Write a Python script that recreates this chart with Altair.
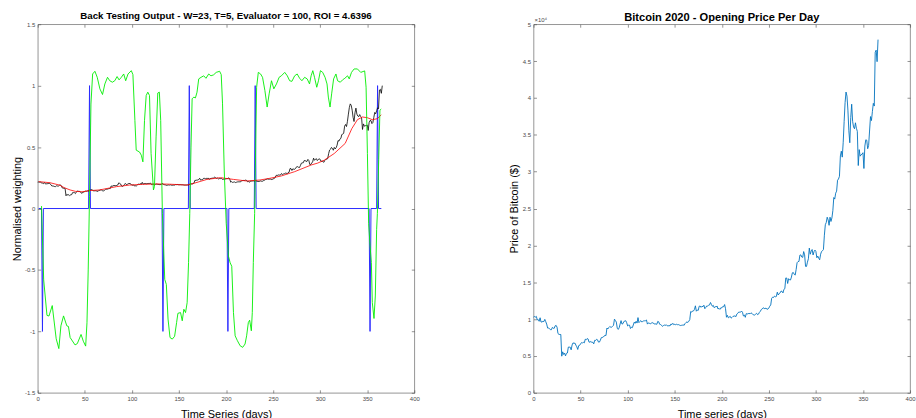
import altair as alt
import pandas as pd

# ---- Bitcoin opening price per day (USD), one list per month ----
feb_2020 = [10270, 10350, 10270, 10370, 9900, 9930, 9700, 10180, 9600, 9610,
            9690, 9660, 9960, 9650, 9320, 8780, 8780, 8710, 8560]
mar_2020 = [8560, 8870, 8760, 8750, 9080, 9150, 8900, 8040, 7930, 7910,
            7910, 4970, 5560, 5200, 5390, 5010, 5360, 5400, 6200, 6200,
            6190, 5830, 6490, 6780, 6700, 6750, 6470, 6240, 5880, 6400, 6440]
apr_2020 = [6640, 6810, 6740, 6870, 6780, 7270, 7200, 7360, 7300, 6870,
            6890, 6960, 6840, 6860, 6640, 7120, 7100, 7260, 7190, 6880,
            6880, 7120, 7480, 7510, 7550, 7700, 7800, 7770, 8790, 8660]
may_2020 = [8860, 8990, 8910, 8890, 9030, 9160, 9990, 9810, 9590, 8750,
            8600, 8820, 9320, 9790, 9320, 9380, 9670, 9730, 9780, 9510,
            9070, 9170, 9180, 8720, 8900, 8840, 9200, 9580, 9430, 9700, 9460]
jun_2020 = [10200, 9520, 9670, 9790, 9620, 9670, 9760, 9770, 9780, 9880,
            9320, 9480, 9470, 9340, 9430, 9530, 9460, 9390, 9310, 9360,
            9290, 9690, 9630, 9300, 9260, 9170, 9010, 9120, 9190, 9140]
jul_2020 = [9240, 9090, 9070, 9130, 9070, 9340, 9250, 9430, 9240, 9290,
            9240, 9300, 9240, 9250, 9190, 9130, 9150, 9170, 9210, 9160,
            9390, 9540, 9610, 9550, 9710, 9930, 11030, 10940, 11100, 11110, 11320]
aug_2020 = [11800, 11070, 11230, 11190, 11740, 11770, 11600, 11750, 11680, 11880,
            11410, 11580, 11780, 11770, 11870, 11910, 12250, 11990, 11740, 11860,
            11540, 11680, 11660, 11770, 11370, 11460, 11320, 11540, 11510, 11700, 11680]
sep_2020 = [11970, 11410, 10250, 10510, 10170, 10280, 10370, 10130, 10240, 10370,
            10400, 10440, 10330, 10680, 10790, 10950, 10940, 10940, 11090, 10920,
            10420, 10540, 10240, 10740, 10690, 10730, 10780, 10710, 10840, 10780]
oct_2020 = [10620, 10570, 10550, 10670, 10790, 10600, 10670, 10920, 11060, 11300,
            11380, 11540, 11430, 11430, 11500, 11320, 11370, 11500, 11750, 11920,
            12820, 12970, 12930, 13120, 13030, 13070, 13650, 13270, 13460, 13560, 13800]
nov_2020 = [13760, 13550, 14030, 14130, 15580, 15570, 14830, 15480, 15330, 15300,
            15700, 16280, 16320, 16070, 15970, 16720, 17650, 17800, 17820, 18680,
            18710, 18420, 18370, 19160, 18720, 17150, 17140, 17720, 18180, 19630]
dec_2020 = [18800, 19200, 19440, 18700, 19150, 19360, 19170, 18320, 18550, 18250,
            18040, 18800, 19170, 19270, 19440, 21380, 22800, 23110, 23820, 23460,
            22720, 23820, 23240, 23730, 24710, 26490, 26280, 27080, 27360, 28840, 29000]
jan_2021 = [29370, 32130, 32780, 31970, 33990, 36820, 39370, 40800, 40250, 38350,
            35540, 33920, 37330, 39150, 36830, 36070, 35820, 36630, 35890, 35470,
            30830, 32990, 32100, 32290, 32370, 32570, 30430, 33470, 34320, 34270, 33110]
feb_2021 = [33540, 35510, 37470, 36930, 38140, 39270, 38900, 46200, 46480, 44920, 47910]

# ---- back-testing signals ----
# trade signal: -1 sell, +1 buy, 0 hold
signal_day = [1, 4, 5, 6, 54, 55, 56, 132, 133, 134, 160, 161, 162, 201, 202, 203,
              230, 231, 232, 352, 353, 354, 360, 361, 362, 365]
signal_val = [0, 0, -1, 0, 0, 1, 0, 0, -1, 0, 0, 1, 0, 0, -1, 0,
              0, 1, 0, 0, -1, 0, 0, 1, 0, 0]

# evaluator output
eval_day = [4, 6.3, 9.8, 11.9, 15.4, 19.6, 22.4, 24.6, 27.4, 30.9, 32.6, 34.4, 39.6,
            42, 46, 48.4, 50.9, 52.3, 53.6, 55, 56.5, 58.3, 60.7, 63.2, 66, 68.8,
            71.3, 74.1, 76.5, 79.3, 81.8, 84.3, 86.4, 88.8, 91.3, 93.4, 95.9, 99.4,
            101.1, 103.2, 104.6, 108.1, 110, 111.7, 113.4, 115.2, 116.9, 118.7, 120.4,
            122.9, 124, 125.7, 127.5, 129.2, 130.6, 132.4, 134.9, 136.6, 138.4, 140.5,
            142.9, 145.4, 147.5, 148.9, 151.7, 153.5, 155.2, 157, 158.7, 160.2, 161.5,
            162.8, 164, 165.8, 167.5, 169.2, 171, 173.5, 176.3, 178.7, 181.6, 184,
            186.8, 189.6, 193.2, 194.9, 196.3, 198.1, 200.2, 202.6, 204.4, 206.1,
            207.9, 209.7, 212.1, 215, 217.7, 220.2, 221.9, 223.7, 225.1, 226.9, 227.9,
            229, 230.4, 231.5, 232.5, 234.3, 236.7, 238.8, 241.3, 243.7, 245.8, 248.3,
            250.8, 253.6, 256.4, 258.8, 262.4, 265.1, 267.6, 270, 272.9, 275.6, 278.2,
            280.6, 283.5, 286.2, 288.7, 290.4, 292.2, 294, 296.4, 298.2, 300.3, 302.7,
            305.2, 307.3, 308.7, 310.5, 312.2, 314.3, 316.8, 318.5, 321.4, 323.8,
            326.2, 329.1, 330.9, 333.3, 336.1, 339.6, 343.1, 347.3, 348.8, 350.2,
            351.5, 353, 354.4, 355.4, 357.2, 358.6, 360, 360.8, 362.2, 363.5, 364.9]
eval_val = [0.02, -0.58, -0.87, -0.875, -0.79, -1.06, -1.14, -0.955, -0.874, -0.955,
            -0.96, -1.05, -1.11, -1.1, -1.025, -1.08, -1.12, -0.93, -0.5, 0.1, 0.85,
            1.095, 1.117, 1.068, 0.974, 0.928, 1.014, 1.068, 1.04, 1.028, 1.04, 1.074,
            1.047, 1.068, 1.095, 1.04, 1.095, 1.122, 1.09, 0.717, 0.475, 0.46, 0.434,
            0.38, 0.717, 0.92, 0.947, 0.92, 0.448, 0.151, 0.18, 0.583, 0.94, 0.947,
            0.717, -0.04, -0.577, -0.618, -0.9, -1.05, -1.063, -1.04, -0.928, -0.853,
            -0.847, -0.914, -0.82, -0.847, -0.766, -0.44, -0.04, 0.5, 0.893, 0.907,
            0.9, 0.947, 1.055, 1.068, 1.08, 1.06, 1.095, 1.08, 1.088, 1.108, 1.117,
            1.09, 0.852, 0.313, -0.12, -0.388, -0.442, -0.47, -0.847, -1.036, -1.076,
            -1.117, -1.13, -1.103, -1.036, -0.928, -0.909, -0.995, -0.847, -0.44,
            -0.04, 0.5, 0.987, 1.108, 1.095, 1.068, 0.96, 0.826, 0.933, 1.04, 0.974,
            1.014, 1.068, 1.08, 1.108, 1.08, 1.04, 1.035, 1.08, 1.095, 1.06, 1.04,
            1.068, 1.055, 1.014, 1.08, 1.122, 1.068, 0.987, 1.04, 1.122, 1.108, 1.068,
            1.014, 0.907, 0.826, 0.933, 1.055, 1.095, 1.04, 1.028, 1.047, 1.06, 1.08,
            1.055, 1.108, 1.136, 1.136, 1.108, 1.12, 0.987, 0.448, -0.12, -0.3, -0.44,
            -0.766, -0.895, -0.712, -0.17, -0.04, 0.4, 0.8, 0.81]

# moving average of the normalised price
ma_day = [1, 13, 23.5, 28, 34.4, 40, 47, 55.4, 65.6, 83.6, 97.6, 111.7, 129.2, 140,
          158.7, 165.8, 179.8, 193.9, 207.9, 221.9, 236, 246.6, 258.8, 272.9, 290.4,
          297.5, 304.5, 315, 326.6, 333.6, 339.6, 344.9, 350.2, 355.4, 360.8, 364.9]
ma_val = [0.219, 0.21, 0.19, 0.17, 0.151, 0.14, 0.136, 0.146, 0.151, 0.178, 0.191,
          0.197, 0.2, 0.198, 0.191, 0.205, 0.237, 0.251, 0.237, 0.224, 0.232, 0.246,
          0.265, 0.3, 0.354, 0.37, 0.394, 0.448, 0.53, 0.65, 0.723, 0.745, 0.739,
          0.723, 0.731, 0.763]

x_ticks = [0, 50, 100, 150, 200, 250, 300, 350, 400]
left_y_ticks = [-1.5, -1, -0.5, 0, 0.5, 1, 1.5]
right_y_ticks = [0, 5000, 10000, 15000, 20000, 25000, 30000, 35000, 40000, 45000, 50000]

open_price = (feb_2020 + mar_2020 + apr_2020 + may_2020 + jun_2020 + jul_2020 +
              aug_2020 + sep_2020 + oct_2020 + nov_2020 + dec_2020 + jan_2021 + feb_2021)

price_df = pd.DataFrame({"day": list(range(len(open_price))), "price": open_price})
signal_df = pd.DataFrame({"day": signal_day, "value": signal_val})
eval_df = pd.DataFrame({"day": eval_day, "value": eval_val})
ma_df = pd.DataFrame({"day": ma_day, "value": ma_val})

FONT = "Liberation Sans"
AXIS_GREY = "#4a4a4a"
PLOT_W, PLOT_H = 379, 371

# ticks point into the plot: shift the axis inward by the tick length
tick_style = dict(domain=False, grid=False, offset=-3, tickSize=3, tickWidth=0.6,
                  tickColor=AXIS_GREY, labelFont=FONT, labelFontSize=6,
                  labelColor=AXIS_GREY, labelFlush=False, labelOverlap=False,
                  titleFont=FONT, titleFontSize=11, titleFontWeight="normal",
                  titleColor="#000000")


def bottom_axis(title, title_pad):
    return alt.Axis(orient="bottom", values=x_ticks, title=title, labelPadding=3,
                    titlePadding=title_pad, labelExpr="'' + datum.value", **tick_style)


def left_axis(title, values, title_pad, label_expr):
    return alt.Axis(orient="left", values=values, title=title, labelPadding=3,
                    titlePadding=title_pad, labelExpr=label_expr, **tick_style)


def top_axis():
    return alt.Axis(orient="top", values=x_ticks, labels=False, title=None, **tick_style)


def right_axis(values):
    return alt.Axis(orient="right", values=values, labels=False, title=None, **tick_style)


# ---------------- left panel: back-testing output ----------------
x_left = alt.Scale(domain=[0, 400], nice=False, zero=False)
y_left = alt.Scale(domain=[-1.5, 1.5], nice=False, zero=False)

signal_line = alt.Chart(signal_df).mark_line(color="#2b2bff", strokeWidth=1.0).encode(
    x=alt.X("day:Q", scale=x_left, axis=bottom_axis("Time Series (days)", 7)),
    y=alt.Y("value:Q", scale=y_left,
            axis=left_axis("Normalised weighting", left_y_ticks, 2, "'' + datum.value")),
)

norm_price = alt.Chart(price_df).transform_joinaggregate(
    peak="max(price)"
).transform_calculate(
    value="datum.price / datum.peak"
).mark_line(color="#000000", strokeWidth=0.8).encode(
    x=alt.X("day:Q", scale=x_left, axis=top_axis()),
    y=alt.Y("value:Q", scale=y_left, axis=right_axis(left_y_ticks)),
)

ma_line = alt.Chart(ma_df).mark_line(color="#ff0000", strokeWidth=0.8).encode(
    x=alt.X("day:Q", scale=x_left, axis=None),
    y=alt.Y("value:Q", scale=y_left, axis=None),
)

eval_line = alt.Chart(eval_df).mark_line(color="#00ee00", strokeWidth=0.9).encode(
    x=alt.X("day:Q", scale=x_left, axis=None),
    y=alt.Y("value:Q", scale=y_left, axis=None),
)

left = alt.layer(signal_line, norm_price, ma_line, eval_line).properties(
    width=PLOT_W, height=PLOT_H,
    title=alt.TitleParams(
        text="Back Testing Output - W=23, T=5, Evaluator = 100, ROI = 4.6396",
        font=FONT, fontSize=9.8, fontWeight="bold", color="#000000",
        anchor="middle", baseline="bottom", offset=-10),
)

# ---------------- right panel: bitcoin price ----------------
x_right = alt.Scale(domain=[0, 400], nice=False, zero=False)
y_right = alt.Scale(domain=[0, 50000], nice=False, zero=False)

price_line = alt.Chart(price_df).mark_line(color="#0072BD", strokeWidth=0.9).encode(
    x=alt.X("day:Q", scale=x_right, axis=bottom_axis("Time series (days)", 7)),
    y=alt.Y("price:Q", scale=y_right,
            axis=left_axis("Price of Bitcoin ($)", right_y_ticks, 3,
                           "'' + (datum.value / 10000)")),
)

price_frame = alt.Chart(price_df).mark_line(strokeOpacity=0).encode(
    x=alt.X("day:Q", scale=x_right, axis=top_axis()),
    y=alt.Y("price:Q", scale=y_right, axis=right_axis(right_y_ticks)),
)

exponent = alt.Chart(pd.DataFrame({"label": ["\u00d710\u2074"]})).mark_text(
    align="left", baseline="alphabetic", font=FONT, fontSize=6, color=AXIS_GREY
).encode(text="label:N", x=alt.value(1), y=alt.value(-2.5))

right = alt.layer(price_line, price_frame, exponent).properties(
    width=PLOT_W, height=PLOT_H,
    title=alt.TitleParams(
        text="Bitcoin 2020 - Opening Price Per Day",
        font=FONT, fontSize=11.2, fontWeight="bold", color="#000000",
        anchor="middle", baseline="bottom", offset=-17),
)

chart = alt.hconcat(left, right, spacing=120, bounds="flush").properties(
    padding={"left": 11, "top": 9, "right": 0, "bottom": 0}
).configure_view(
    stroke="#7a7a7a", strokeWidth=0.8
)

chart.save("out.html", embed_options={"renderer": "svg", "actions": False})
